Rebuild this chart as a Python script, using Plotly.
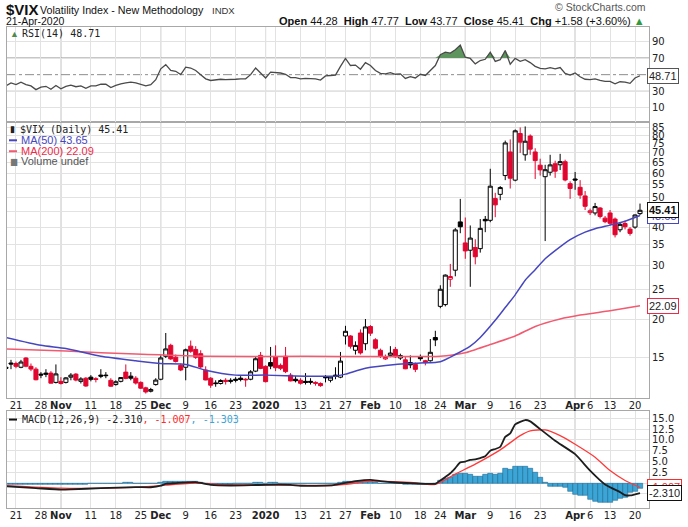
import numpy as np
import pandas as pd
import plotly.graph_objects as go

# trading calendar, exchange holidays removed
holidays = ['2019-11-28', '2019-12-25', '2020-01-01', '2020-01-20', '2020-02-17', '2020-04-10']
days = pd.bdate_range('2019-10-17', '2020-04-21')
days = days[~days.isin(pd.to_datetime(holidays))]
pos = {d.strftime('%Y-%m-%d'): i for i, d in enumerate(days)}
xs = list(range(len(days)))

# $VIX daily OHLC
opens = [13.9, 14.35, 14.3, 13.9, 14.9, 14.0, 13.7, 13.2, 13.3, 13.3,
         12.4, 12.5, 12.4, 12.9, 13.2, 12.5, 12.8, 12.9, 12.75, 13.1,
         13.1, 12.6, 12.2, 12.5, 13.4, 13.0, 12.8, 12.4, 11.9, 11.6,
         12.2, 12.7, 15.1, 16.4, 15.0, 14.1, 13.9, 16.3, 15.9, 15.4,
         13.6, 12.8, 12.35, 12.3, 12.6, 12.6, 12.7, 12.8, 12.7, 12.7,
         13.5, 15.2, 14.0, 14.4, 15.0, 14.1, 15.1, 13.1, 12.7, 12.6,
         12.5, 12.5, 12.4, 12.3, 12.9, 12.6, 13.1, 12.9, 17.6, 17.6,
         15.8, 18.0, 16.6, 18.9, 17.1, 15.8, 14.8, 15.2, 15.9, 14.9,
         14.7, 14.4, 14.2, 15.0, 14.6, 14.6, 17.4, 22.0, 22.3, 27.0,
         28.9, 41.6, 35.5, 33.6, 34.3, 34.0, 42.4, 42.1, 49.6, 51.2,
         59.0, 70.5, 57.0, 81.0, 69.0, 79.5, 70.5, 63.8, 58.5, 60.5,
         64.5, 64.0, 65.5, 55.5, 57.5, 54.0, 50.6, 44.6, 44.5, 46.2,
         42.8, 44.5, 42.5, 39.2, 41.1, 39.4, 40.0, 44.28]
highs = [14.1, 14.7, 14.5, 14.7, 15.0, 14.3, 13.9, 13.4, 13.7, 13.5,
         14.2, 12.9, 12.9, 13.3, 13.3, 12.9, 12.9, 13.1, 12.9, 13.7,
         13.4, 12.8, 12.6, 12.9, 14.2, 13.4, 13.0, 12.5, 12.0, 11.9,
         12.8, 15.2, 18.0, 16.6, 15.3, 14.3, 16.0, 17.0, 16.3, 15.8,
         14.0, 12.9, 12.6, 12.7, 12.8, 12.8, 12.9, 13.0, 12.8, 13.6,
         15.0, 15.6, 14.1, 16.2, 16.4, 14.3, 16.2, 13.3, 13.0, 12.8,
         13.3, 12.8, 12.5, 12.4, 13.1, 13.0, 13.9, 15.6, 19.0, 17.7,
         16.9, 18.5, 20.0, 19.1, 17.3, 16.0, 15.3, 16.3, 16.2, 15.4,
         15.0, 15.2, 14.4, 15.3, 14.7, 17.2, 18.3, 25.8, 28.0, 30.3,
         39.7, 49.48, 43.0, 40.5, 36.5, 42.5, 43.5, 62.1, 51.8, 54.5,
         76.8, 77.5, 83.56, 84.8, 85.47, 80.5, 72.5, 67.0, 64.0, 69.0,
         66.0, 69.5, 66.5, 56.5, 60.6, 57.0, 52.5, 46.0, 48.0, 46.5,
         43.5, 45.5, 43.0, 41.5, 42.0, 40.0, 44.0, 47.77]
lows = [13.5, 13.7, 13.8, 13.8, 13.9, 13.5, 12.6, 12.8, 12.9, 12.3,
        12.3, 12.2, 12.3, 12.6, 12.5, 12.3, 12.0, 12.5, 12.4, 12.8,
        12.8, 12.0, 12.1, 12.4, 12.7, 12.6, 12.2, 11.8, 11.4, 11.5,
        12.1, 12.6, 14.9, 14.7, 14.4, 13.5, 12.6, 15.5, 14.8, 13.8,
        12.6, 11.9, 12.0, 12.2, 12.2, 12.3, 12.4, 12.5, 12.0, 12.6,
        13.4, 13.7, 12.4, 13.7, 13.5, 13.6, 13.3, 12.5, 12.4, 12.2,
        12.2, 12.2, 12.1, 12.0, 12.4, 12.4, 12.7, 12.8, 16.5, 16.0,
        15.3, 15.3, 15.8, 17.6, 15.9, 14.9, 14.7, 15.0, 14.9, 14.7,
        13.7, 13.8, 13.4, 14.6, 14.1, 14.5, 16.3, 21.7, 22.0, 25.5,
        27.6, 38.2, 31.5, 25.5, 30.2, 33.0, 38.5, 41.5, 43.1, 49.0,
        57.0, 53.5, 56.5, 70.0, 66.0, 69.0, 57.5, 59.0, 36.0, 59.0,
        58.0, 61.5, 56.5, 49.5, 53.0, 49.5, 45.5, 43.8, 43.7, 42.7,
        41.2, 40.5, 37.0, 38.5, 39.3, 37.5, 39.5, 43.77]
closes = [13.79, 14.25, 14.00, 14.46, 14.01, 13.71, 12.65, 13.11, 13.20, 12.33,
          13.22, 12.30, 12.83, 13.10, 12.62, 12.73, 12.07, 12.69, 12.68, 13.00,
          13.05, 12.05, 12.46, 12.86, 12.78, 12.80, 12.34, 11.87, 11.54, 11.75,
          12.62, 14.91, 15.96, 14.80, 14.52, 13.62, 15.86, 15.68, 14.99, 13.94,
          12.63, 12.14, 12.29, 12.58, 12.50, 12.51, 12.61, 12.67, 12.65, 13.43,
          14.82, 13.78, 12.47, 14.02, 13.85, 13.79, 13.45, 12.54, 12.56, 12.32,
          12.39, 12.42, 12.32, 12.10, 12.85, 12.91, 12.98, 14.56, 18.23, 16.28,
          16.39, 15.49, 18.84, 17.97, 16.05, 15.15, 14.96, 15.47, 15.04, 15.18,
          13.74, 14.15, 13.68, 14.83, 14.38, 15.56, 17.08, 25.03, 27.85, 27.56,
          39.16, 40.11, 33.42, 36.82, 31.99, 39.62, 41.94, 54.46, 47.30, 53.90,
          75.47, 57.83, 82.69, 75.91, 76.45, 72.00, 66.04, 61.59, 61.67, 63.95,
          61.00, 65.54, 57.08, 53.54, 57.06, 50.91, 46.80, 45.24, 46.70, 43.35,
          41.67, 41.17, 37.76, 40.84, 40.11, 38.15, 43.83, 45.41]

# RSI(14), one value per day
rsi = [36.5, 40, 38, 41, 38, 36.5, 32, 35, 36, 32.5,
       37, 33, 36, 37.5, 35.5, 36.5, 33.5, 36.5, 36.5, 38.5,
       38.5, 34.5, 37, 39, 40, 41, 40, 38, 36.5, 38,
       44, 57, 62, 55, 54, 50, 59, 58, 55, 50,
       45, 43, 43.5, 44.5, 44, 44, 44.5, 45, 45, 50,
       58, 52, 46, 53, 52.5, 52, 50.5, 46.5, 46.5, 45,
       45.5, 45.5, 45, 43.5, 48.5, 49, 49.5, 60, 69.5, 61,
       61.5, 56.5, 64.5, 61, 55, 51.5, 51, 52.5, 50.5, 51,
       45.5, 47.5, 46, 50.5, 49, 55, 61, 74, 77, 76,
       80, 85.5, 71, 69.5, 63, 67, 68.5, 77, 66, 68,
       79, 62.5, 69.5, 66, 68, 64.5, 60, 57.5, 57, 58.5,
       57, 58.5, 51.5, 49.5, 52, 47.5, 44.5, 44, 45, 43,
       42, 42, 39, 41.5, 41, 39.5, 46, 48.71]

# moving averages, sampled along the curves
ma50_dates = ['2019-10-17', '2019-10-28', '2019-11-04', '2019-11-13', '2019-11-22', '2019-12-02',
              '2019-12-09', '2019-12-13', '2019-12-23', '2020-01-02', '2020-01-14', '2020-01-23',
              '2020-01-27', '2020-01-31', '2020-02-10', '2020-02-18', '2020-02-24', '2020-02-27',
              '2020-03-03', '2020-03-05', '2020-03-10', '2020-03-12', '2020-03-16', '2020-03-18',
              '2020-03-20', '2020-03-24', '2020-03-26', '2020-03-31', '2020-04-03', '2020-04-07',
              '2020-04-13', '2020-04-16', '2020-04-21']
ma50_vals = [17.4, 16.4, 16.0, 15.1, 14.6, 14.3, 14.2, 13.6, 13.1, 13.1, 13.0, 13.0,
             13.2, 13.8, 14.2, 14.35, 14.5, 15.3, 16.3, 17.4, 19.8, 21.8, 24.0, 26.8,
             29.0, 31.5, 33.5, 36.4, 38.5, 39.5, 40.6, 41.8, 43.65]
ma200_dates = ['2019-10-17', '2019-11-04', '2019-11-22', '2019-12-13', '2020-01-14', '2020-02-24',
               '2020-02-27', '2020-03-02', '2020-03-09', '2020-03-16', '2020-03-20', '2020-03-27',
               '2020-04-02', '2020-04-13', '2020-04-21']
ma200_vals = [15.95, 15.7, 15.35, 15.1, 15.1, 15.1, 15.3, 15.5, 16.5, 17.6, 18.9, 20.0,
              20.6, 21.3, 22.09]

# MACD(12,26,9)
macd_dates = ['2019-10-17', '2019-10-25', '2019-11-01', '2019-11-05', '2019-11-13', '2019-11-22',
              '2019-11-27', '2019-12-02', '2019-12-03', '2019-12-05', '2019-12-11', '2019-12-16',
              '2019-12-20', '2020-01-02', '2020-01-09', '2020-01-13', '2020-01-22', '2020-01-24',
              '2020-01-29', '2020-02-03', '2020-02-05', '2020-02-10', '2020-02-13', '2020-02-19',
              '2020-02-21', '2020-02-24', '2020-02-26', '2020-02-27', '2020-02-28', '2020-03-02',
              '2020-03-03', '2020-03-04', '2020-03-05', '2020-03-06', '2020-03-09', '2020-03-10',
              '2020-03-11', '2020-03-12', '2020-03-13', '2020-03-16', '2020-03-18', '2020-03-19',
              '2020-03-23', '2020-03-26', '2020-04-01', '2020-04-06', '2020-04-09', '2020-04-15',
              '2020-04-16', '2020-04-17', '2020-04-20', '2020-04-21']
macd_vals = [-0.75, -1.15, -1.5, -1.45, -1.15, -0.92, -0.95, -0.6, -0.15, 0.0, 0.23, -0.38,
             -0.54, -0.38, -0.4, -0.6, -0.54, -0.15, 0.46, 0.77, 0.46, 0.15, 0.0, -0.15,
             -0.15, 0.61, 2.3, 3.5, 4.8, 5.0, 5.4, 5.5, 5.8, 6.2, 7.5, 7.9,
             8.4, 10.7, 11.5, 13.6, 14.6, 14.3, 12.5, 9.8, 6.7, 2.9, -0.3, -2.07,
             -2.75, -2.85, -2.6, -2.31]
signal_dates = ['2019-10-17', '2019-11-01', '2019-11-14', '2019-11-25', '2019-12-03', '2019-12-11',
                '2019-12-19', '2020-01-02', '2020-01-22', '2020-01-27', '2020-02-03', '2020-02-13',
                '2020-02-21', '2020-02-27', '2020-03-04', '2020-03-11', '2020-03-17', '2020-03-19',
                '2020-03-24', '2020-03-27', '2020-04-01', '2020-04-07', '2020-04-13', '2020-04-16',
                '2020-04-21']
signal_vals = [-0.54, -1.15, -1.15, -0.92, -0.46, 0.0, -0.38, -0.38, -0.54, -0.3, 0.46, 0.15,
               -0.3, 2.1, 4.4, 7.7, 11.0, 12.1, 12.3, 11.0, 9.0, 6.0, 2.9, 0.6, -1.007]
hist = [-0.25, -0.25, -0.3, -0.3, -0.3, -0.3, -0.35, -0.35, -0.35, -0.35,
        -0.3, -0.35, -0.3, -0.3, -0.3, -0.25, -0.25, -0.2, -0.2, -0.15,
        -0.1, -0.1, -0.05, 0.0, 0.05, 0.05, 0.0, -0.05, -0.1, -0.1,
        0.0, 0.2, 0.35, 0.3, 0.3, 0.25, 0.3, 0.3, 0.25, 0.1,
        -0.1, -0.3, -0.35, -0.35, -0.3, -0.25, -0.2, -0.15, -0.1, -0.05,
        0.1, 0.05, -0.05, 0.05, 0.05, 0.0, 0.0, -0.05, -0.1, -0.1,
        -0.1, -0.1, -0.1, -0.1, -0.05, 0.0, 0.0, 0.2, 0.45, 0.45,
        0.45, 0.35, 0.45, 0.35, 0.15, 0.0, -0.1, -0.15, -0.2, -0.2,
        -0.25, -0.3, -0.35, -0.3, -0.3, -0.25, -0.15, 0.6, 1.0, 1.3,
        1.9, 2.3, 2.2, 1.9, 1.4, 1.4, 2.0, 2.1, 2.0, 2.2,
        3.3, 3.2, 3.8, 3.9, 3.8, 3.3, 2.5, 1.2, 0.2, -0.8,
        -0.9, -0.9, -1.0, -1.9, -2.6, -2.8, -2.9, -3.9, -4.3, -4.4,
        -4.4, -4.4, -4.0, -3.6, -3.3, -2.2, -1.9, -1.303]

# x axis labels
tick_dates = ['2019-10-21', '2019-10-28', '2019-11-01', '2019-11-11', '2019-11-18', '2019-11-25',
              '2019-12-02', '2019-12-09', '2019-12-16', '2019-12-23', '2020-01-02', '2020-01-06',
              '2020-01-13', '2020-01-21', '2020-01-27', '2020-02-03', '2020-02-10', '2020-02-18',
              '2020-02-24', '2020-03-02', '2020-03-09', '2020-03-16', '2020-03-23', '2020-04-01',
              '2020-04-06', '2020-04-13', '2020-04-20']
tick_text = ['21', '28', '<b>Nov</b>', '11', '18', '25', '<b>Dec</b>', '9', '16', '23', '<b>2020</b>', '',
             '13', '21', '27', '<b>Feb</b>', '10', '18', '24', '<b>Mar</b>', '9', '16', '23', '<b>Apr</b>',
             '6', '13', '20']
month_dates = ['2019-11-01', '2019-12-02', '2020-01-02', '2020-02-03', '2020-03-02', '2020-04-01']
price_ticks = [15, 20, 25, 30, 35, 40, 45, 50, 55, 60, 65, 70, 75, 80, 85]
macd_ticks = [-2.5, 0, 2.5, 5, 7.5, 10, 12.5, 15]
rsi_ticks = [10, 30, 70, 90]


def at(ds):
    return [pos[d] for d in ds]


W, H = 688, 527
L, R, T, B = 6, 39, 27, 16


def py(p):
    return (H - B - p) / (H - T - B)


def px(p):
    return (p - L) / (W - L - R)


RED = '#e1062f'
BLUE = '#4646c0'
PINK = '#f25a70'
GRID = '#e2e2e2'
FRAME = '#a8a8a8'
n = len(xs)

fig = go.Figure()

# candles: black when close >= previous close, red otherwise; hollow when close > open
prev = [closes[0]] + closes[:-1]
for col, ids in [('black', [i for i in xs if closes[i] >= prev[i]]),
                 (RED, [i for i in xs if closes[i] < prev[i]])]:
    fig.add_trace(go.Candlestick(
        x=ids, open=[opens[i] for i in ids], high=[highs[i] for i in ids],
        low=[lows[i] for i in ids], close=[closes[i] for i in ids],
        increasing=dict(line=dict(color=col, width=1), fillcolor='white'),
        decreasing=dict(line=dict(color=col, width=1), fillcolor=col),
        whiskerwidth=0, xaxis='x2', yaxis='y2'))

fig.add_trace(go.Scatter(x=at(ma200_dates), y=ma200_vals, mode='lines', xaxis='x2', yaxis='y2',
                         line=dict(color=PINK, width=1.5, shape='spline', smoothing=0.6)))
fig.add_trace(go.Scatter(x=at(ma50_dates), y=ma50_vals, mode='lines', xaxis='x2', yaxis='y2',
                         line=dict(color=BLUE, width=1.5, shape='spline', smoothing=0.6)))

# RSI panel
fig.add_trace(go.Scatter(x=xs, y=[70] * n, mode='lines', line=dict(width=0), xaxis='x3', yaxis='y3'))
fig.add_trace(go.Scatter(x=xs, y=[max(v, 70) for v in rsi], mode='lines', line=dict(width=0),
                         fill='tonexty', fillcolor='#5e955e', xaxis='x3', yaxis='y3'))
fig.add_trace(go.Scatter(x=xs, y=rsi, mode='lines', line=dict(color='#4a4a4a', width=1.3),
                         xaxis='x3', yaxis='y3'))

# MACD panel
fig.add_trace(go.Bar(x=xs, y=hist, width=1.0, xaxis='x', yaxis='y',
                     marker=dict(color='#3aa5d6', line=dict(color='#1f6a93', width=0.6))))
fig.add_trace(go.Scatter(x=at(signal_dates), y=signal_vals, mode='lines', xaxis='x', yaxis='y',
                         line=dict(color='#ff3a3a', width=1.3, shape='spline', smoothing=0.6)))
fig.add_trace(go.Scatter(x=at(macd_dates), y=macd_vals, mode='lines', xaxis='x', yaxis='y',
                         line=dict(color='#1e1e1e', width=1.8, shape='spline', smoothing=0.5)))

tickfont = dict(family='DejaVu Sans', size=10, color='#222')
xcommon = dict(range=[0.2, 128.8], tickvals=at(tick_dates), ticktext=tick_text, ticks='',
               tickangle=0, showgrid=True, gridcolor=GRID, showline=True, mirror=True,
               linecolor=FRAME, zeroline=False, tickfont=tickfont, fixedrange=True)
ycommon = dict(side='right', ticks='', showgrid=True, gridcolor=GRID, showline=True, mirror=True,
               linecolor=FRAME, zeroline=False, tickfont=tickfont)

shapes = []
for ref in ['y', 'y2', 'y3']:
    for d in month_dates:
        shapes.append(dict(type='line', xref='x', yref=ref + ' domain', x0=pos[d], x1=pos[d],
                           y0=0, y1=1, line=dict(color='#b4b4b4', width=1), layer='below'))
for v in [70, 30]:
    shapes.append(dict(type='line', xref='x3 domain', yref='y3', x0=0, x1=1, y0=v, y1=v,
                       line=dict(color='#8c8c8c', width=1), layer='below'))
shapes.append(dict(type='line', xref='x3 domain', yref='y3', x0=0, x1=1, y0=50, y1=50,
                   line=dict(color='#8c8c8c', width=1, dash='dashdot'), layer='below'))

# short coloured keys in front of legend lines
for y, col, w in [(141, BLUE, 2), (152, PINK, 2), (422, '#111', 2)]:
    shapes.append(dict(type='line', xref='paper', yref='paper', x0=px(8), x1=px(16), y0=py(y), y1=py(y),
                       line=dict(color=col, width=w)))

ann = []


def note(x, y, text, size=11, family='Liberation Sans', color='#111', anchor='left', **kw):
    ann.append(dict(xref='paper', yref='paper', x=px(x), y=py(y), text=text, showarrow=False,
                    xanchor=anchor, yanchor='middle', font=dict(family=family, size=size, color=color), **kw))


# header
note(3, 9, '<b>$VIX</b>', size=15)
note(37, 10, 'Volatility Index - New Methodology', size=10.7)
note(209, 10, 'INDX', size=9.5, color='#333')
note(3, 21, '21-Apr-2020', size=10.5)
note(648, 7, '© StockCharts.com', size=10.5, color='#555', anchor='right')
note(647, 21, '<b>Open</b> 44.28  <b>High</b> 47.77  <b>Low</b> 43.77  <b>Close</b> 45.41  '
              '<b>Chg</b> +1.58 (+3.60%) <span style="color:#2f9a3a">▲</span>', size=11, anchor='right')

# panel legends
note(7, 34, '▲', size=9, color='#4f8a4f')
note(19, 34, 'RSI(14) 48.71', size=10, family='DejaVu Sans Mono', color='#222')
note(7, 130, '▮', size=9, color='#222')
note(17, 130, '$VIX (Daily) 45.41', size=10, family='DejaVu Sans Mono', color='#222')
note(18, 141, 'MA(50) 43.65', size=11, color=BLUE)
note(18, 152, 'MA(200) 22.09', size=11, color='#ee2a48')
note(7, 162, '▆', size=8, color='#777')
note(18, 162, 'Volume undef', size=11, color='#555')
note(19, 422, 'MACD(12,26,9) -2.310<span style="color:#ff2a2a">, -1.007</span>'
              '<span style="color:#3aa5d6">, -1.303</span>', size=10, family='DejaVu Sans Mono', color='#222')


def tag(yref, y, text, border, color='#222', bold=False):
    ann.append(dict(xref='paper', yref=yref, x=1, y=y, xanchor='left', yanchor='middle', xshift=-2,
                    text='<b>%s</b>' % text if bold else text, showarrow=False, bgcolor='white',
                    bordercolor=border, borderwidth=1, borderpad=1,
                    font=dict(family='Liberation Sans', size=11, color=color)))


tag('y3', rsi[-1], '48.71', '#555')
tag('y2', np.log10(ma50_vals[-1]), '43.65', BLUE, color=BLUE)
tag('y2', np.log10(closes[-1]), '45.41', '#111', color='#111', bold=True)
tag('y2', np.log10(ma200_vals[-1]), '22.09', '#ee2a48')
tag('y', signal_vals[-1], '-1.007', '#ff2a2a', color='#ff2a2a')
tag('y', macd_vals[-1], '-2.310', '#111')

fig.update_layout(
    width=W, height=H, margin=dict(l=L, r=R, t=T, b=B, pad=0), autosize=False,
    paper_bgcolor='white', plot_bgcolor='white', showlegend=False,
    boxgap=0.1, boxgroupgap=0.1, bargap=0,
    font=dict(family='DejaVu Sans', size=10, color='#222'),
    xaxis=dict(xcommon, anchor='y', domain=[0, 1], ticklabelstandoff=-2),
    xaxis2=dict(xcommon, anchor='y2', domain=[0, 1], matches='x', ticklabelstandoff=-2,
                rangeslider=dict(visible=False)),
    xaxis3=dict(xcommon, anchor='y3', domain=[0, 1], matches='x', showticklabels=False),
    yaxis=dict(ycommon, domain=[0, py(413)], range=[-5.75, 16.78], tickvals=macd_ticks,
               ticktext=['' if v < 0 else '%.1f' % v for v in macd_ticks]),
    yaxis2=dict(ycommon, domain=[py(400), py(123)], type='log',
                range=[np.log10(11.05), np.log10(88.1)], tickvals=price_ticks,
                ticktext=[str(v) for v in price_ticks]),
    yaxis3=dict(ycommon, domain=[py(123), 1], range=[-7.4, 107.3], tickvals=rsi_ticks,
                ticktext=[str(v) for v in rsi_ticks]),
    shapes=shapes, annotations=ann,
)

# the page body would otherwise add its default 8px margin around the chart
fig.write_html('out.html', config={'displayModeBar': False},
               post_script="document.body.style.margin='0';document.body.style.overflow='hidden';")
